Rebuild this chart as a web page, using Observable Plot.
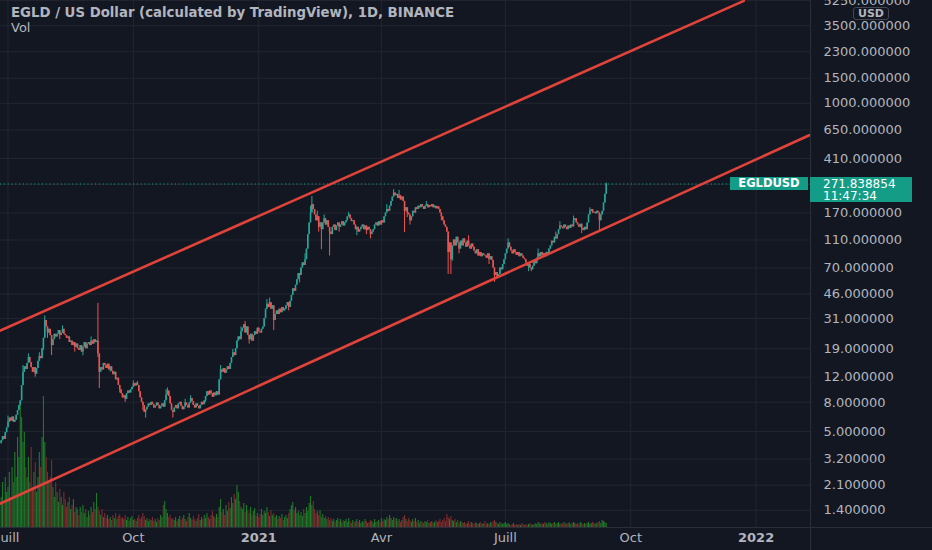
<!DOCTYPE html>
<html><head><meta charset="utf-8">
<script src="https://cdn.jsdelivr.net/npm/d3@7"></script>
<script src="https://cdn.jsdelivr.net/npm/@observablehq/plot@0.6"></script>
<style>
html,body{margin:0;padding:0;background:#131722;}
#chart{position:relative;width:932px;height:550px;overflow:hidden;background:#131722;font-family:"DejaVu Sans",sans-serif;}
#chart svg{position:absolute;left:0;top:0;}
.ov{position:absolute;white-space:nowrap;}
</style></head><body><div id="chart"></div>
<script>
// ---------- DATA ----------
const title = "EGLD / US Dollar (calculated by TradingView), 1D, BINANCE";
const subTitle = "Vol";
const symbol = "EGLDUSD";
const lastPrice = 271.838854;
const countdown = "11:47:34";
const currency = "USD";
const startDate = "2020-06-26";      // first daily candle
const firstOpen = 4.1;

// daily closes, 2020-06-26 .. 2021-09-13
const closes = [
 4.3,4.6,4.4,4.9,5.3,5.8,6.2,5.9,6.3,5.8,6.0,6.5,7.0,7.6,8.2,
 10.5,13.0,14.2,13.6,15.0,16.5,15.2,14.0,13.0,14.0,12.6,13.8,15.5,16.8,16.2,19,22.5,30,
 27,24.5,26,23.5,20,22,24,23,24,25.5,23.5,24.5,26,24,23.5,
 22.5,23,21,21.5,20,21,19.5,20.5,19,18.5,20,18,19.5,21,19,20.5,21,20,21.5,20.5,22,21,21.5,
 17.5,13,14,13.5,15,14.5,13.8,14.8,13.5,14.2,13.2,12.5,13,11.5,11.8,10.5,9.8,9.2,8.6,8.9,8.4,9.2,9.6,9.3,9.8,
 10.2,10.8,10.4,10.9,10.5,9.5,8.6,8.0,7.6,6.8,7.1,7.4,7.8,7.6,8.0,7.7,7.3,7.5,7.9,7.6,7.2,7.5,7.8,7.4,8.2,9.0,9.6,8.8,7.8,7.0,6.8,
 7.3,7.6,7.2,7.8,8.0,7.5,7.1,7.4,7.9,7.6,7.3,7.9,8.5,8.1,7.6,7.3,7.8,7.5,7.2,7.6,8.0,7.7,8.2,8.8,9.5,9.0,9.6,9.2,8.7,9.3,8.9,9.5,9.0,
 11.5,13.5,13.0,13.8,12.8,13.5,14.2,13.6,15.0,16.5,17.8,17.0,19.0,21.5,23.0,22.0,25.0,26.5,28.0,24.5,27.0,23.5,22.0,24.0,21.5,23.5,25,24,26.5,25,24.5,26,27,
 31,36,39,37,40,36,38,30,33,35,33,36,34,37,35,36,38,40,37,41,45,50,48,53,58,64,62,70,76,73,80,95,120,145,170,195,180,
 165,150,160,135,145,130,145,155,140,150,135,125,120,135,140,128,138,145,135,140,148,138,145,150,160,165,155,148,150,140,130,135,125,130,135,140,130,138,128,135,130,120,125,130,
 140,145,138,148,140,150,145,160,170,180,175,190,205,220,235,225,230,215,225,210,220,205,175,185,170,165,150,160,175,170,185,180,190,185,195,188,180,190,195,185,192,188,195,185,190,182,188,180,
 170,160,150,140,135,125,90,105,80,100,110,100,115,105,95,108,100,112,105,98,108,100,95,103,98,92,88,94,85,90,84,88,86,85,82,88,80,84,79,70,62,65,60,
 63,70,68,74,80,88,95,105,98,92,88,94,90,86,90,84,88,85,82,80,76,72,74,70,68,72,78,75,82,88,84,90,86,88,84,90,87,95,100,108,105,115,112,120,130,138,135,132,
 140,135,130,138,133,140,136,150,155,145,140,135,142,132,128,135,130,145,165,175,180,170,172,168,175,170,150,165,175,200,230,271.838854
];

// wicks beyond the candle body: day index, high, low (null = none)
const wickDay  = [5,   16,  20,  25,  28,  31,  32,  34,  37,  43,  45,  54,  60,  66,  71,  72,  80,  87,  91,  97,  100, 104, 106, 121, 122, 126, 135, 139, 150, 161, 170, 176, 179, 182, 195, 197, 200, 211, 219, 223, 227, 228, 232, 233, 235, 237, 241, 248, 255, 261, 268, 271, 283, 288, 292, 296, 298, 300, 312, 323, 328, 330, 331, 336, 343, 358, 362, 372, 387, 389, 394, 407, 410, 420, 426, 432, 439, 444];
const wickHigh = [6.4, 14.5,17.5,null,17.8,null,32.3,null,null,null,27.5,null,null,23,  39.6,null,null,null,null,11.3,11.2,null,null,9.8, 10.1,null,8.4, 8.9, null,14.5,18.8,27,  29.5,null,42,  43,  null,null,null,88,  190, 222, 175, null,null,165, null,null,172, null,null,null,195, 248, 245, null,null,null,205, null,null,null,null,null,118, null,null,112, null,null,95,  125, 148, 162, null,185, null,276];
const wickLow  = [null,null,null,12,  null,18.5,null,22.5,17,  22,  null,18,  17,  null,16.5,10,  13,  9.3, 8.0, null,null,7.0, 6.2, null,null,6.2, null,null,8.0, null,null,null,null,20.5,null,null,25.5,35,  55,  null,null,null,null,125, 94,  null,85,  125, null,118, 120, 112, null,null,null,124, 158, 140, null,150, 63,  63,  78,  88,  null,74,  55.5,null,66,  66,  null,null,null,null,122, null,124, null];

// daily volume (relative units)
const volumes = [
 30,45,25,50,35,40,55,30,60,45, 75,50,90,70,124,110,85,95,60,50, 70,45,80,40,55,65,35,50,75,60,
 90,131,85,70,55,45,50,67,40,30, 45,35,25,38,30,22,35,28,20,25, 30,18,22,28,15,20,18,12,20,15,
 22,14,18,10,16,12,20,15,25,18, 34,20,16,12,18,10,14,9,12,8, 10,7,12,9,14,8,11,13,9,10,
 8,12,7,10,6,9,11,7,8,6, 9,12,8,10,14,11,7,9,6,8, 7,10,6,8,5,9,7,12,10,22,
 26,18,14,10,12,8,9,7,10,6, 8,11,7,9,12,8,6,10,14,9, 7,11,8,6,9,13,7,10,8,12,
 9,14,10,8,12,16,11,9,13,10, 20,28,15,18,12,22,16,25,19,30, 24,33,28,42,35,26,20,18,24,15,
 22,17,14,20,12,16,19,11,14,10, 13,18,12,16,14,20,15,11,17,12, 14,10,12,8,11,9,13,7,10,12,
 9,14,18,22,25,17,20,14,16,12, 15,11,18,14,20,16,24,31,22,26, 18,14,16,12,17,10,13,9,11,8,
 10,7,9,6,8,5,7,9,6,8, 5,7,6,8,5,9,6,4,7,5, 6,8,5,7,4,6,5,8,6,4,
 5,7,6,4,8,5,6,7,5,9, 6,8,7,10,8,12,9,7,10,8, 9,6,8,5,7,10,12,8,6,9,
 7,5,8,6,9,5,7,4,6,5, 4,6,5,7,4,5,6,4,5,7, 5,6,8,5,7,9,6,13,10,8,
 11,7,6,8,5,7,4,6,5,4, 5,3,4,6,3,5,4,3,5,4, 3,4,5,3,4,6,3,4,3,5,
 4,6,7,5,4,3,5,4,3,4, 5,3,4,3,2,3,4,2,3,2, 3,2,4,3,2,3,2,3,4,3,
 2,3,4,3,5,4,3,4,3,5, 4,3,5,4,3,4,5,3,4,5, 3,4,3,5,4,3,4,5,3,4,
 5,4,3,4,3,5,4,3,4,3, 4,5,3,4,5,4,3,4,5,6, 4,7,6,5,4
];

// channel lines (date, price)
const upperDates = ["2020-06-25", "2021-12-23"];
const upperPrices = [25.4, 5225];
const lowerDates = ["2020-06-25", "2022-02-09"];
const lowerPrices = [1.556, 597];

// axes
const yTickValues = [1.4, 2.1, 3.2, 5, 8, 12, 19, 31, 46, 70, 110, 170, 410, 650, 1000, 1500, 2300, 3500, 5250];
const yGridExtra = [270];
const xTickDates = ["2020-07-01","2020-10-01","2021-01-01","2021-04-01","2021-07-01","2021-10-01","2022-01-01"];
const xTickLabels = ["Juill","Oct","2021","Avr","Juill","Oct","2022"];
const xDomainDates = ["2020-06-25T12:00Z", "2022-02-09T21:36Z"];
const yDomain = [1.06, 5260];

// ---------- STYLE ----------
const BG = "#131722", GRID = "#222631", BORDER = "#2a2e39", TEXT = "#b2b5be";
const UP = "#26a69a", DOWN = "#ef5350", VUP = "#1e7b28", VDOWN = "#7f2c2c";
const RED = "#e0433a", TEAL = "#139c86";

// ---------- BUILD ----------
const DAY = 864e5;
const t0 = Date.parse(startDate + "T00:00Z");
const wick = new Map(wickDay.map((d, i) => [d, {h: wickHigh[i], l: wickLow[i]}]));
const candles = closes.map((c, i) => {
  const o = i === 0 ? firstOpen : closes[i - 1];
  const w = wick.get(i) || {};
  return {
    date: new Date(t0 + i * DAY), open: o, close: c,
    high: Math.max(o, c, w.h ?? 0), low: Math.min(o, c, w.l ?? Infinity),
    up: c >= o, vol: volumes[i]
  };
});
const up = candles.filter(d => d.up), down = candles.filter(d => !d.up);
const upperLine = upperDates.map((d, i) => ({date: new Date(d), price: upperPrices[i]}));
const lowerLine = lowerDates.map((d, i) => ({date: new Date(d), price: lowerPrices[i]}));
const xTicks = xTickDates.map(d => new Date(d));
const labelMap = new Map(xTicks.map((d, i) => [+d, xTickLabels[i]]));
const isYear = (d) => /^\d{4}$/.test(labelMap.get(+d));
const monthTicks = xTicks.filter(d => !isYear(d));
const yearTicks = xTicks.filter(d => isYear(d));

const common = {
  width: 932, height: 550, marginLeft: 0, marginRight: 122, marginTop: 0, marginBottom: 23,
  x: {type: "utc", domain: xDomainDates.map(d => new Date(d)), axis: null},
  style: {background: "transparent", fontFamily: "DejaVu Sans", fontSize: "13px", color: TEXT, overflow: "visible"}
};
const chart = document.getElementById("chart");

// layer 1: grid + axes
const axes = Plot.plot({
  ...common,
  y: {type: "log", domain: yDomain, axis: null},
  marks: [
    Plot.gridY(yTickValues.concat(yGridExtra), {stroke: GRID, strokeOpacity: 1}),
    Plot.gridX(xTicks, {stroke: GRID, strokeOpacity: 1}),
    Plot.text(yTickValues, {y: d => d, frameAnchor: "right", dx: 13, textAnchor: "start", text: d => d.toFixed(6), fill: TEXT, fontSize: 13}),
    Plot.text(monthTicks, {x: d => d, frameAnchor: "bottom", dy: 14, text: d => labelMap.get(+d), fill: TEXT, fontSize: 13}),
    Plot.text(yearTicks, {x: d => d, frameAnchor: "bottom", dy: 14, text: d => labelMap.get(+d), fill: TEXT, fontSize: 13, fontWeight: "bold"})
  ]
});
chart.appendChild(axes);

// layer 2: volume
const vmax = d3.max(volumes);
const vol = Plot.plot({
  ...common,
  y: {domain: [0, vmax], range: [527, 396], axis: null},
  marks: [
    Plot.ruleX(up, {x: "date", y1: 0, y2: "vol", stroke: VUP, strokeWidth: 1.1}),
    Plot.ruleX(down, {x: "date", y1: 0, y2: "vol", stroke: VDOWN, strokeWidth: 1.1})
  ]
});
chart.appendChild(vol);

// layer 3: price
const price = Plot.plot({
  ...common,
  y: {type: "log", domain: yDomain, axis: null},
  marks: [
    Plot.ruleY([lastPrice], {stroke: TEAL, strokeDasharray: "1.2,2.6", strokeWidth: 1}),
    Plot.ruleX(up, {x: "date", y1: "low", y2: "high", stroke: UP, strokeWidth: 1}),
    Plot.ruleX(down, {x: "date", y1: "low", y2: "high", stroke: DOWN, strokeWidth: 1}),
    Plot.ruleX(up, {x: "date", y1: "open", y2: "close", stroke: UP, strokeWidth: 1.6}),
    Plot.ruleX(down, {x: "date", y1: "open", y2: "close", stroke: DOWN, strokeWidth: 1.6}),
    Plot.line(upperLine, {x: "date", y: "price", stroke: RED, strokeWidth: 2.6, clip: true}),
    Plot.line(lowerLine, {x: "date", y: "price", stroke: RED, strokeWidth: 2.6, clip: true})
  ]
});
chart.appendChild(price);

// overlays
function ov(css, html) {
  const d = document.createElement("div");
  d.className = "ov"; d.style.cssText += css; d.innerHTML = html; chart.appendChild(d); return d;
}
// borders
ov(`left:810px;top:0;width:1px;height:550px;background:${BORDER}`, "");
ov(`left:0;top:527px;width:932px;height:1px;background:${BORDER}`, "");
// titles
ov(`left:11px;top:5px;font:bold 13.3px 'DejaVu Sans';color:${TEXT};line-height:16px`, title);
ov(`left:11px;top:20px;font:13px 'DejaVu Sans';color:${TEXT};line-height:16px`, subTitle);
// currency badge
ov(`left:853px;top:6.5px;width:34px;height:11px;border:1px solid #434651;border-radius:3px;background:${BG};font:bold 11px 'DejaVu Sans';color:${TEXT};line-height:11px;text-align:center`, currency);
// price labels
const py = price.scale("y").apply(lastPrice);
ov(`left:730px;top:${py - 6}px;width:78px;height:13px;background:${TEAL};color:#fff;font:bold 11.5px 'DejaVu Sans';line-height:13px;text-align:center`, symbol);
ov(`left:810px;top:${py - 6}px;width:102px;height:25px;background:${TEAL};color:#fff;font:12px 'DejaVu Sans';line-height:12px;padding:0.5px 0 0 13px;box-sizing:border-box`, lastPrice.toFixed(6) + "<br>" + countdown);
</script></body></html>
